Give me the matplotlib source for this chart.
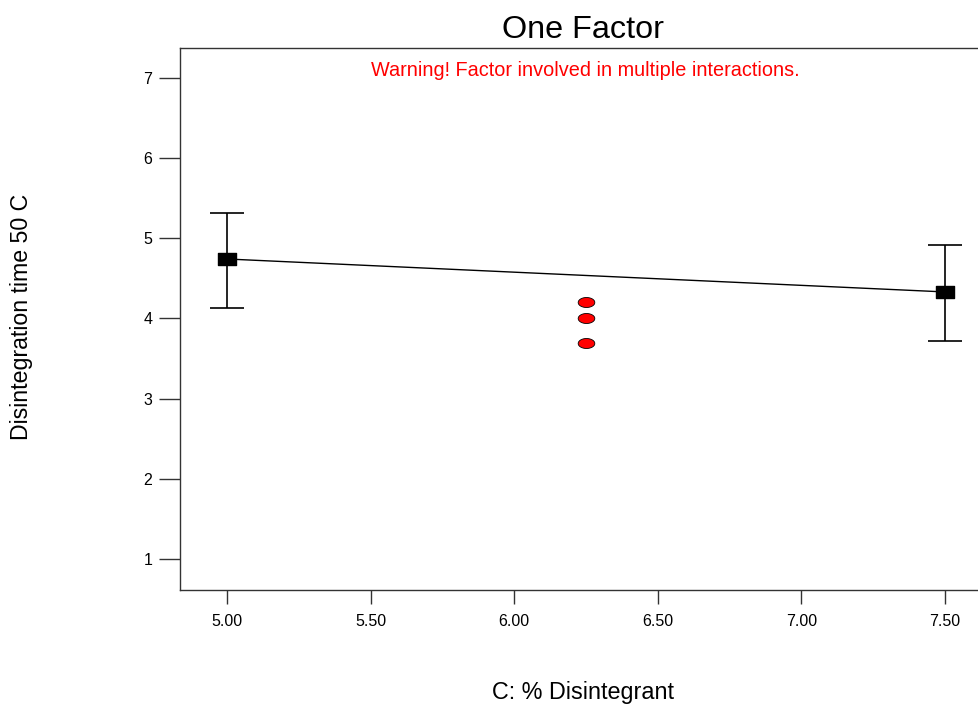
import matplotlib
matplotlib.use("Agg")
import matplotlib.pyplot as plt
import numpy as np
from matplotlib.path import Path

plt.rcParams['font.family'] = ['Liberation Sans', 'DejaVu Sans']

# Data
factor_levels = [5.00, 7.50]
predicted = [4.742, 4.331]
ci_low = [4.131, 3.719]
ci_high = [5.316, 4.917]
design_x = [6.25, 6.25, 6.25]
design_y = [4.20, 4.00, 3.70]
xticks = [5.00, 5.50, 6.00, 6.50, 7.00, 7.50]
xtick_labels = ["5.00", "5.50", "6.00", "6.50", "7.00", "7.50"]
yticks = [1, 2, 3, 4, 5, 6, 7]

W, H = 979, 707
fig = plt.figure(figsize=(W/100, H/100), dpi=100)
left, right, top, bottom = 180, 992, 48, 590
ax = fig.add_axes([left/W, 1-bottom/H, (right-left)/W, (bottom-top)/H])

rect = Path([(-1, -0.62), (1, -0.62), (1, 0.62), (-1, 0.62), (-1, -0.62)],
            [Path.MOVETO, Path.LINETO, Path.LINETO, Path.LINETO, Path.CLOSEPOLY])
t = np.linspace(0, 2*np.pi, 40)
ell = Path(np.column_stack([np.cos(t), 0.6*np.sin(t)]))

pred = np.array(predicted)
yerr = [pred - np.array(ci_low), np.array(ci_high) - pred]
ax.plot(factor_levels, predicted, color='black', lw=1.0, zorder=2)
ax.errorbar(factor_levels, predicted, yerr=yerr, fmt='none', ecolor='black',
            elinewidth=1.2, capsize=12, capthick=1.2, zorder=3)
ax.plot(factor_levels, predicted, linestyle='none', marker=rect, markersize=13,
        color='black', zorder=4)
ax.plot(design_x, design_y, linestyle='none', marker=ell, markersize=12,
        markerfacecolor='red', markeredgecolor='black', markeredgewidth=0.6, zorder=5)

ax.set_xlim(4.8364, 7.6636)
ax.set_ylim(0.613, 7.374)
ax.set_xticks(xticks)
ax.set_xticklabels(xtick_labels)
ax.set_yticks(yticks)
ax.tick_params(axis='x', length=10, width=1, colors='#333333', labelcolor='black',
               labelsize=11.5, pad=7)
ax.tick_params(axis='y', length=15, width=1, colors='#333333', labelcolor='black',
               labelsize=11.5, pad=5)
for s in ['left', 'bottom', 'top']:
    ax.spines[s].set_color('#333333')
    ax.spines[s].set_linewidth(1.0)
ax.spines['right'].set_visible(False)

fig.text(583/W, 1-30/H, "One Factor", ha='center', va='center', fontsize=23.3)
fig.text(585.5/W, 1-70/H, "Warning! Factor involved in multiple interactions.",
         ha='center', va='center', fontsize=14.3, color='red')
fig.text(583.5/W, 1-692/H, "C: % Disintegrant", ha='center', va='center', fontsize=16.8)
fig.text(22/W, 1-317/H, "Disintegration time 50 C", ha='center', va='center',
         rotation=90, fontsize=16.7)

fig.savefig("out.png", dpi=100)
